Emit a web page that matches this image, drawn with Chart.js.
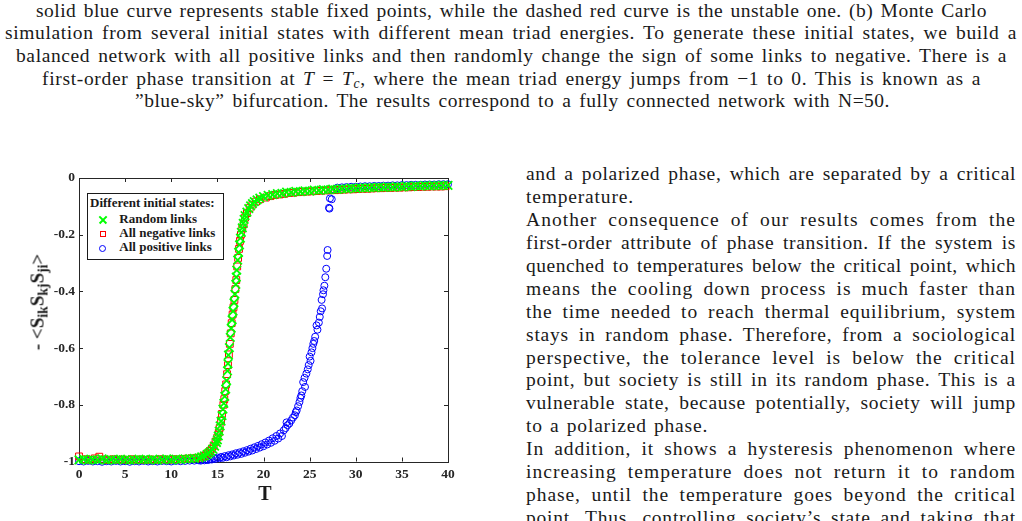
<!DOCTYPE html>
<html>
<head>
<meta charset="utf-8">
<script src="https://cdn.jsdelivr.net/npm/chart.js@4.4.1/dist/chart.umd.min.js"></script>
<style>
    body {
        margin: 0;
        width: 1022px;
        height: 521px;
        overflow: hidden;
        background: #fff;
        position: relative;
        font-family: 'Liberation Serif', 'Times New Roman', serif;
        color: #1a1a1a;
    }
    .line {
        position: absolute;
        white-space: nowrap;
        font-size: 19.5px;
        line-height: 23px;
    }
    .line sub { font-size: 0.7em; line-height: 0; vertical-align: -0.2em; }
    #chartBox { position: absolute; left: 0; top: 160px; width: 470px; height: 361px; }
    .ov { position: absolute; white-space: nowrap; font-weight: bold; color: #1a1a1a; }
    #yTitle {
        left: 36.6px; top: 302px;
        font-size: 19px; line-height: 21px;
        transform: translate(-50%, -50%) rotate(-90deg);
    }
    #yTitle sub { font-size: 0.72em; line-height: 0; vertical-align: -0.32em; }
    #xTitle { left: 265px; top: 483px; font-size: 20px; line-height: 20px; transform: translateX(-50%); }
    #legendBox {
        position: absolute; left: 86.5px; top: 192.5px; width: 137px; height: 67.5px;
        box-sizing: border-box; border: 1px solid #1a1a1a; background: #fff;
    }
    .lg { font-size: 13px; line-height: 14px; }
    .mk { position: absolute; box-sizing: border-box; }
    .mk-cross { width: 8px; height: 8px; }
    .mk-cross::before, .mk-cross::after {
        content: ''; position: absolute; left: -1px; top: 3.2px; width: 10px; height: 1.6px; background: #00ff00;
    }
    .mk-cross::before { transform: rotate(45deg); }
    .mk-cross::after { transform: rotate(-45deg); }
    .mk-square { width: 6px; height: 6px; border: 1px solid #ff0000; }
    .mk-circle { width: 7px; height: 7px; border: 1px solid #0000ff; border-radius: 50%; }
</style>
</head>
<body>

<!-- caption lines -->
<div class="line fit" data-w="951" style="left:36px; top:-1.5px;">solid blue curve represents stable fixed points, while the dashed red curve is the unstable one. (b) Monte Carlo</div>
<div class="line fit" data-w="1012" style="left:5px; top:21.2px;">simulation from several initial states with different mean triad energies. To generate these initial states, we build a</div>
<div class="line fit" data-w="991" style="left:16px; top:43.9px;">balanced network with all positive links and then randomly change the sign of some links to negative. There is a</div>
<div class="line fit" data-w="939" style="left:42px; top:66.6px;">first-order phase transition at <i>T</i> = <i>T</i><sub><i>c</i></sub>, where the mean triad energy jumps from −1 to 0. This is known as a</div>
<div class="line fit" data-w="755" style="left:135px; top:89.3px;">”blue-sky” bifurcation. The results correspond to a fully connected network with N=50.</div>

<!-- right column -->
<div class="line fit" data-w="490" style="left:526px; top:162.3px;">and a polarized phase, which are separated by a critical</div>
<div class="line loose" style="left:526px; top:185.2px;">temperature.</div>
<div class="line fit" data-w="490" style="left:526px; top:208.1px;">Another consequence of our results comes from the</div>
<div class="line fit" data-w="490" style="left:526px; top:231px;">first-order attribute of phase transition. If the system is</div>
<div class="line fit" data-w="490" style="left:526px; top:253.9px;">quenched to temperatures below the critical point, which</div>
<div class="line fit" data-w="490" style="left:526px; top:276.8px;">means the cooling down process is much faster than</div>
<div class="line fit" data-w="490" style="left:526px; top:299.7px;">the time needed to reach thermal equilibrium, system</div>
<div class="line fit" data-w="490" style="left:526px; top:322.6px;">stays in random phase. Therefore, from a sociological</div>
<div class="line fit" data-w="490" style="left:526px; top:345.5px;">perspective, the tolerance level is below the critical</div>
<div class="line fit" data-w="490" style="left:526px; top:368.4px;">point, but society is still in its random phase. This is a</div>
<div class="line fit" data-w="490" style="left:526px; top:391.3px;">vulnerable state, because potentially, society will jump</div>
<div class="line loose" style="left:526px; top:414.2px;">to a polarized phase.</div>
<div class="line fit" data-w="490" style="left:526px; top:437.1px;">In addition, it shows a hysteresis phenomenon where</div>
<div class="line fit" data-w="490" style="left:526px; top:460px;">increasing temperature does not return it to random</div>
<div class="line fit" data-w="490" style="left:526px; top:482.9px;">phase, until the temperature goes beyond the critical</div>
<div class="line fit" data-w="490" style="left:526px; top:505.8px;">point. Thus, controlling society’s state and taking that</div>

<div id="chartBox"><canvas id="triadChart"></canvas></div>

<div id="yTitle" class="ov">- &lt;S<sub>ik</sub>S<sub>kj</sub>S<sub>ji</sub>&gt;</div>
<div id="xTitle" class="ov">T</div>

<div id="legendBox"></div>
<div class="ov lg" style="left:90px; top:195.6px;">Different initial states:</div>
<div class="mk mk-cross" style="left:98.7px; top:215.5px;"></div>
<div class="ov lg" style="left:119.3px; top:211.8px;">Random links</div>
<div class="mk mk-square" style="left:99.7px; top:231px;"></div>
<div class="ov lg" style="left:119.3px; top:226.4px;">All negative links</div>
<div class="mk mk-circle" style="left:99.2px; top:244.5px;"></div>
<div class="ov lg" style="left:119.3px; top:240px;">All positive links</div>

<script>
// axes
const xTickValues = [0, 5, 10, 15, 20, 25, 30, 35, 40];
const xTickLabels = ['0', '5', '10', '15', '20', '25', '30', '35', '40'];
const yTickValues = [-1, -0.8, -0.6, -0.4, -0.2, 0];
const yTickLabels = ['-1', '-0.8', '-0.6', '-0.4', '-0.2', '0'];

// Random links (green crosses)
const randomT = [
    0, 0.5, 1, 1.5, 2, 2.5, 3, 3.5, 4, 4.5, 5, 5.5, 6, 6.5, 7, 7.5, 8, 8.5, 9, 9.5, 10, 10.5, 11, 11.5, 12, 12.5,
    13, 13.3, 13.6, 13.9, 14.1, 14.3, 14.5, 14.7, 14.9, 15, 15.1, 15.2, 15.3, 15.4, 15.5, 15.6, 15.7, 15.8, 15.9, 16,
    16.1, 16.15, 16.2, 16.3, 16.4, 16.5, 16.6, 16.7, 16.8, 16.9, 17, 17.05, 17.1, 17.2, 17.3, 17.4, 17.5, 17.6, 17.7,
    17.8, 17.9, 18, 18.2, 18.4, 18.6, 18.8, 19, 19.3, 19.6,
    20, 20.5, 21, 21.5, 22, 22.5, 23, 23.5, 24, 24.5, 25, 25.5, 26, 26.5, 27, 27.5, 28, 28.5, 29, 29.5, 30,
    30.5, 31, 31.5, 32, 32.5, 33, 33.5, 34, 34.5, 35, 35.5, 36, 36.5, 37, 37.5, 38, 38.5, 39, 39.5, 40
];
const randomE = [
    -0.994, -0.992, -0.995, -0.993, -0.994, -0.991, -0.995, -0.993, -0.994, -0.992, -0.993, -0.995, -0.994,
    -0.992, -0.993, -0.994, -0.992, -0.995, -0.993, -0.991, -0.994, -0.992, -0.993, -0.991, -0.99, -0.989,
    -0.987, -0.984, -0.98, -0.975, -0.97, -0.964, -0.956, -0.946, -0.933, -0.924, -0.91, -0.893, -0.874, -0.858,
    -0.838, -0.815, -0.795, -0.77, -0.745, -0.715, -0.68, -0.655, -0.625, -0.598, -0.562, -0.53, -0.5, -0.47,
    -0.44, -0.41, -0.375, -0.35, -0.325, -0.29, -0.262, -0.236, -0.212, -0.192, -0.176, -0.16, -0.146, -0.133,
    -0.12, -0.108, -0.098, -0.09, -0.083, -0.077, -0.071,
    -0.066, -0.061, -0.059, -0.055, -0.054, -0.05, -0.051, -0.047, -0.048, -0.045, -0.046, -0.043, -0.044,
    -0.041, -0.042, -0.039, -0.04, -0.038, -0.038, -0.036, -0.037, -0.035, -0.035, -0.034, -0.034, -0.032,
    -0.033, -0.031, -0.032, -0.03, -0.031, -0.029, -0.03, -0.028, -0.029, -0.027, -0.028, -0.027, -0.027,
    -0.026, -0.026
];

// All negative links (red squares)
const negativeT = [
    0, 0.7, 1.2, 1.7, 2.2, 2.7, 3.2, 3.7, 4.2, 4.7, 5.2, 5.7, 6.2, 6.7, 7.2, 7.7, 8.2, 8.7, 9.2, 9.7, 10.2, 10.7,
    11.2, 11.7, 12.2, 12.7,
    13.1, 13.5, 13.8, 14, 14.2, 14.4, 14.6, 14.8, 15, 15.15, 15.25, 15.4, 15.5, 15.65, 15.75, 15.85, 15.95, 16.05,
    16.15, 16.25, 16.35, 16.45, 16.55, 16.65, 16.75, 16.85, 16.95, 17.05, 17.15, 17.25, 17.35, 17.45, 17.55, 17.7,
    17.85, 18, 18.2, 18.5, 18.8, 19.2, 19.6,
    20.25, 20.75, 21.25, 21.75, 22.25, 22.75, 23.25, 23.75, 24.25, 24.75, 25.25, 25.75, 26.25, 26.75, 27.25,
    27.75, 28.25, 28.75, 29.25, 29.75, 30.25, 30.75, 31.25, 31.75, 32.25, 32.75, 33.25, 33.75, 34.25, 34.75,
    35.25, 35.75, 36.25, 36.75, 37.25, 37.75, 38.25, 38.75, 39.25, 39.75
];
const negativeE = [
    -0.982, -0.992, -0.994, -0.989, -0.983, -0.993, -0.995, -0.992, -0.994, -0.993, -0.995, -0.992, -0.994,
    -0.993, -0.995, -0.993, -0.994, -0.992, -0.993, -0.994, -0.992, -0.993, -0.991, -0.99, -0.989, -0.988,
    -0.986, -0.981, -0.975, -0.97, -0.963, -0.955, -0.944, -0.93, -0.915, -0.898, -0.882, -0.856, -0.832, -0.8,
    -0.78, -0.752, -0.728, -0.692, -0.66, -0.622, -0.585, -0.548, -0.512, -0.482, -0.456, -0.43, -0.392, -0.36,
    -0.312, -0.282, -0.25, -0.222, -0.2, -0.178, -0.163, -0.14, -0.124, -0.106, -0.094, -0.083, -0.075,
    -0.069, -0.064, -0.06, -0.058, -0.056, -0.053, -0.052, -0.05, -0.049, -0.048, -0.047, -0.046, -0.045,
    -0.044, -0.043, -0.043, -0.042, -0.041, -0.04, -0.04, -0.039, -0.038, -0.038, -0.037, -0.036, -0.036,
    -0.035, -0.035, -0.034, -0.034, -0.033, -0.033, -0.032, -0.032, -0.031, -0.031, -0.03, -0.03, -0.03, -0.029
];

// All positive links (blue circles)
const positiveT = [
    0, 0.5, 1, 1.5, 2, 2.5, 3, 3.5, 4, 4.5, 5, 5.5, 6, 6.5, 7, 7.5, 8, 8.5, 9, 9.5, 10, 10.5, 11, 11.5, 12,
    12.5, 13,
    13.2, 13.4, 13.6, 13.8, 14, 14.2, 14.4, 14.6, 14.8, 15, 15.2, 15.4, 15.6, 15.8, 16, 16.2, 16.4, 16.6, 16.8,
    17, 17.2, 17.4, 17.6, 17.8, 18, 18.2, 18.4, 18.6, 18.8, 19, 19.2, 19.4, 19.6, 19.8, 20, 20.2, 20.4, 20.6,
    20.8, 21, 21.2, 21.4, 21.6, 21.8, 22, 22.2,
    22.4, 22.5, 22.6, 22.8, 23, 23.2, 23.4, 23.5, 23.6, 23.75, 23.9, 24, 24.1, 24.2, 24.3, 24.45, 24.5, 24.65,
    24.8, 24.9, 25, 25.1, 25.2, 25.3, 25.4, 25.5, 25.6, 25.75, 25.85, 26, 26.1, 26.2, 26.3, 26.35, 26.45, 26.5,
    26.6, 26.7, 26.8, 26.9, 26.95, 27.1, 27.15, 27.2, 27.4,
    27.7, 28, 28.5, 29, 29.5, 30, 30.5, 31, 31.5, 32, 32.5, 33, 33.5, 34, 34.5, 35, 35.5, 36, 36.5, 37, 37.5,
    38, 38.5, 39, 39.5, 40
];
const positiveE = [
    -0.999, -1, -0.998, -1, -0.999, -1.001, -0.999, -1, -0.998, -1, -0.999, -1.001, -0.999, -1, -0.998, -1,
    -0.999, -1, -0.998, -0.999, -1, -0.998, -0.999, -0.998, -0.997, -0.997, -0.996,
    -0.997, -0.994, -0.996, -0.993, -0.995, -0.991, -0.993, -0.989, -0.991, -0.986, -0.989, -0.984, -0.987,
    -0.981, -0.985, -0.978, -0.982, -0.975, -0.979, -0.971, -0.976, -0.968, -0.973, -0.964, -0.969, -0.96,
    -0.965, -0.955, -0.961, -0.95, -0.956, -0.945, -0.951, -0.939, -0.946, -0.933, -0.94, -0.926, -0.934,
    -0.918, -0.927, -0.91, -0.919, -0.901, -0.91, -0.89,
    -0.882, -0.862, -0.872, -0.866, -0.855, -0.845, -0.837, -0.826, -0.82, -0.805, -0.79, -0.776, -0.767,
    -0.752, -0.72, -0.705, -0.737, -0.69, -0.675, -0.66, -0.63, -0.645, -0.615, -0.6, -0.585, -0.575, -0.56,
    -0.52, -0.535, -0.51, -0.49, -0.47, -0.43, -0.46, -0.41, -0.396, -0.38, -0.35, -0.32, -0.275, -0.254,
    -0.105, -0.108, -0.072, -0.075,
    -0.042, -0.034, -0.033, -0.032, -0.031, -0.031, -0.03, -0.029, -0.029, -0.028, -0.028, -0.027, -0.027,
    -0.026, -0.026, -0.025, -0.025, -0.024, -0.024, -0.024, -0.023, -0.023, -0.023, -0.022, -0.022, -0.022
];

const serif = "'Liberation Serif', 'Times New Roman', serif";
const axisColor = '#262626';

function toPoints(ts, es) {
    return ts.map((t, i) => ({ x: t, y: es[i] }));
}

// stretch text lines to the width they have on the page:
// most of the slack goes to letter spacing, the rest to word spacing
function fitLines() {
    let lsSum = 0, lsCount = 0;
    document.querySelectorAll('.fit').forEach(el => {
        const target = parseFloat(el.dataset.w);
        const text = el.textContent;
        const gaps = (text.match(/ /g) || []).length;
        const slack = target - el.getBoundingClientRect().width;
        if (slack > 0) {
            const ls = slack * 0.6 / text.length;
            el.style.letterSpacing = ls + 'px';
            if (target === 490) { lsSum += ls; lsCount++; }
        }
        const natural = el.getBoundingClientRect().width;
        if (gaps) el.style.wordSpacing = ((target - natural) / gaps) + 'px';
    });
    const avg = lsCount ? lsSum / lsCount : 0.3;
    document.querySelectorAll('.loose').forEach(el => {
        el.style.letterSpacing = avg + 'px';
        el.style.wordSpacing = '1.5px';
    });
}

// box around the plot with inward ticks on every side
const frameTicks = {
    id: 'frameTicks',
    beforeDatasetsDraw(chart) {
        const { ctx, chartArea: a, scales: { x, y } } = chart;
        const len = 4;
        ctx.save();
        ctx.strokeStyle = axisColor;
        ctx.lineWidth = 1;
        ctx.strokeRect(Math.round(a.left) + 0.5, Math.round(a.top) + 0.5,
            Math.round(a.right) - Math.round(a.left), Math.round(a.bottom) - Math.round(a.top));
        ctx.beginPath();
        x.ticks.forEach(t => {
            const px = Math.round(x.getPixelForValue(t.value)) + 0.5;
            ctx.moveTo(px, a.bottom); ctx.lineTo(px, a.bottom - len);
            ctx.moveTo(px, a.top); ctx.lineTo(px, a.top + len);
        });
        y.ticks.forEach(t => {
            const py = Math.round(y.getPixelForValue(t.value)) + 0.5;
            ctx.moveTo(a.left, py); ctx.lineTo(a.left + len, py);
            ctx.moveTo(a.right, py); ctx.lineTo(a.right - len, py);
        });
        ctx.stroke();
        ctx.restore();
    }
};

function initTriadChart() {
    fitLines();
    const ctx = document.getElementById('triadChart');
    new Chart(ctx.getContext('2d'), {
        type: 'scatter',
        data: {
            datasets: [
                {
                    label: 'Random links',
                    data: toPoints(randomT, randomE),
                    pointStyle: 'crossRot',
                    pointRadius: 6,
                    borderWidth: 1.8,
                    borderColor: '#00ff00',
                    backgroundColor: '#00ff00',
                    clip: false
                },
                {
                    label: 'All negative links',
                    data: toPoints(negativeT, negativeE),
                    pointStyle: 'rect',
                    pointRadius: 4.8,
                    borderWidth: 1,
                    borderColor: '#ff0000',
                    backgroundColor: 'rgba(0,0,0,0)',
                    clip: false
                },
                {
                    label: 'All positive links',
                    data: toPoints(positiveT, positiveE),
                    pointStyle: 'circle',
                    pointRadius: 3.5,
                    borderWidth: 1,
                    borderColor: '#0000ff',
                    backgroundColor: 'rgba(0,0,0,0)',
                    clip: false
                }
            ]
        },
        options: {
            responsive: true,
            maintainAspectRatio: false,
            animation: false,
            events: [],
            layout: { padding: { top: 18, right: 22, bottom: 0, left: 0 } },
            plugins: {
                legend: { display: false },
                tooltip: { enabled: false }
            },
            scales: {
                x: {
                    type: 'linear',
                    min: 0,
                    max: 40,
                    afterFit: s => { s.height = 59.5; },
                    afterBuildTicks: s => { s.ticks = xTickValues.map(v => ({ value: v })); },
                    ticks: {
                        callback: (v, i) => xTickLabels[i],
                        font: { family: serif, size: 13.5, weight: 'bold' },
                        color: axisColor,
                        padding: 5,
                        maxRotation: 0,
                        autoSkip: false
                    },
                    grid: { display: false, drawTicks: false },
                    border: { display: false }
                },
                y: {
                    type: 'linear',
                    min: -1,
                    max: 0,
                    afterFit: s => { s.width = 79; },
                    afterBuildTicks: s => { s.ticks = yTickValues.map(v => ({ value: v })); },
                    ticks: {
                        callback: (v, i) => yTickLabels[i],
                        font: { family: serif, size: 13.5, weight: 'bold' },
                        color: axisColor,
                        padding: 4,
                        autoSkip: false
                    },
                    grid: { display: false, drawTicks: false },
                    border: { display: false }
                }
            }
        },
        plugins: [frameTicks]
    });
}

document.addEventListener('DOMContentLoaded', initTriadChart);
</script>
</body>
</html>
